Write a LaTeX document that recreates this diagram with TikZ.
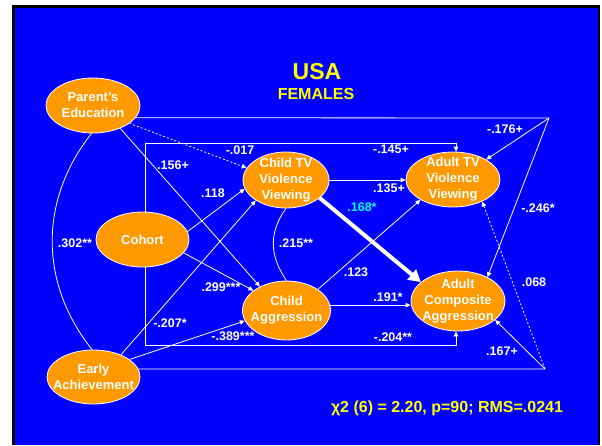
\documentclass[tikz,border=0pt]{standalone}
\usepackage{fontspec}
\setmainfont{Liberation Sans}
\usetikzlibrary{shapes.geometric,arrows.meta}
\definecolor{slideblue}{RGB}{0,0,255}
\definecolor{orangefill}{RGB}{255,153,0}
\definecolor{titleyellow}{RGB}{255,255,0}
\definecolor{keycyan}{RGB}{0,255,255}
\tikzset{
  var/.style={ellipse, draw=white, line width=0.8pt, fill=orangefill, inner sep=0pt},
  vartxt/.style={text=white, font=\fontsize{13}{16}\selectfont\bfseries, align=center, inner sep=0pt},
  coef/.style={text=white, font=\fontsize{12.5}{14}\selectfont\bfseries, inner sep=0pt},
  link/.style={draw=white, line width=0.8pt},
  arr/.style={link, -{Triangle[length=5pt,width=4.5pt]}},
  dsh/.style={dash pattern=on 2pt off 2pt},
  bigarr/.style={draw=white, line width=4pt, -{Triangle[length=12pt,width=13pt]}},
}
\begin{document}
\begin{tikzpicture}[x=1pt,y=-1pt]
\useasboundingbox (0,0) rectangle (602,445);
\fill[white] (0,0) rectangle (602,445);
\fill[black] (12,5) rectangle (600,445);
\fill[slideblue] (15,8) rectangle (598,445);

% titles
\node[text=titleyellow, font=\fontsize{23}{27}\selectfont\bfseries, inner sep=0pt] (title) at (317,72) {USA};
\node[text=titleyellow, font=\fontsize{16}{19}\selectfont\bfseries, inner sep=0pt] (subtitle) at (316,94) {FEMALES};
\node[text=titleyellow, font=\fontsize{16}{19}\selectfont\bfseries, inner sep=0pt] (fit) at (447,408) {χ2 (6) = 2.20, p=90; RMS=.0241};

% variables
\node[var, minimum width=94pt, minimum height=55pt] (pe) at (93,105.5) {};
\node[var, minimum width=93pt, minimum height=55pt] (co) at (142.5,239.5) {};
\node[var, minimum width=86pt, minimum height=56pt] (ctv) at (286,180) {};
\node[var, minimum width=88pt, minimum height=59pt] (ca) at (286.5,310.5) {};
\node[var, minimum width=94pt, minimum height=55pt] (atv) at (453,179.5) {};
\node[var, minimum width=94pt, minimum height=60pt] (aca) at (458,301) {};
\node[var, minimum width=93pt, minimum height=54pt] (ea) at (93.5,377) {};

\node[vartxt] (pe-t) at (pe) {Parent's\\Education};
\node[vartxt] (co-t) at (co) {Cohort};
\node[vartxt] (ctv-t) at (ctv) {Child TV\\Violence\\Viewing};
\node[vartxt] (ca-t) at (ca) {Child\\Aggression};
\node[vartxt] (atv-t) at (atv) {Adult TV\\Violence\\Viewing};
\node[vartxt] (aca-t) at (aca) {Adult\\Composite\\Aggression};
\node[vartxt] (ea-t) at (ea) {Early\\Achievement};

% helper corners
\coordinate (tl) at (145,143);
\coordinate (tr) at (456,143);
\coordinate (bl) at (145,345);
\coordinate (br) at (456,345);
\coordinate (otr) at (549,118);
\coordinate (obr) at (545,369);

% correlations (curved)
\draw[link] (pe.-93) .. controls (39,200) and (39,283) .. (ea.93);
\draw[link] (ctv.-90) .. controls (269,232) and (269,255) .. (ca.90);

% paths from exogenous variables
\draw[arr, dsh] (pe.-26) -- (ctv.163);
\draw[arr] (pe.-40) -- (ca.138);
\draw[arr] (co.10) -- (ctv.192);
\draw[arr] (co.-18) -- (ca.149);
\draw[arr] (ea.39) -- (ctv.214);
\draw[arr] (ea.26) -- (ca.194);

% cohort to adult outcomes
\draw[arr] (tl |- co.north) -- (tl) -- (tr) -- (tr |- atv.north);
\draw[arr] (bl |- co.south) -- (bl) -- (br) -- (br |- aca.south);

% outer paths
\draw[link] (pe.-16.6) -- (otr);
\draw[arr] (otr) -- (atv.31);
\draw[arr] (otr) -- (aca.39);
\draw[link] (ea.10) -- (obr);
\draw[arr] (obr) -- (aca.-27);
\draw[arr, dsh] (obr) -- (atv.-37);

% child to adult
\draw[arr] (ctv.east) -- (atv.west |- ctv.east);
\draw[arr] (ca.34) -- (atv.212);
\draw[arr] (ca.7) -- (aca.west |- ca.7);
\draw[bigarr] (ctv.-28) -- (aca.153);

% coefficients
\node[coef] (k1) at (240,150) {-.017};
\node[coef] (k2) at (173,165) {.156+};
\node[coef] (k3) at (213,193) {.118};
\node[coef] (k4) at (75,243) {.302**};
\node[coef] (k5) at (296,243) {.215**};
\node[coef] (k6) at (221,287) {.299***};
\node[coef] (k7) at (170,323) {-.207*};
\node[coef] (k8) at (233,336) {-.389***};
\node[coef] (k9) at (391,149) {-.145+};
\node[coef] (k10) at (505,129) {-.176+};
\node[coef] (k11) at (389,188) {.135+};
\node[coef, text=keycyan] (k12) at (362,207) {.168*};
\node[coef] (k13) at (538,208) {-.246*};
\node[coef] (k14) at (356,272) {.123};
\node[coef] (k15) at (534,282) {.068};
\node[coef] (k16) at (388,297) {.191*};
\node[coef] (k17) at (393,337) {-.204**};
\node[coef] (k18) at (502,351) {.167+};
\end{tikzpicture}
\end{document}
